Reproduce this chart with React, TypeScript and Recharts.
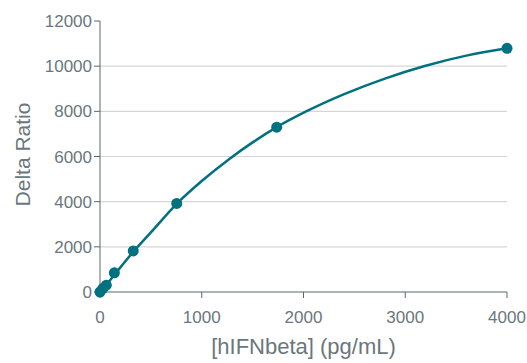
import React from 'react';
import { ComposedChart, Line, Scatter, XAxis, YAxis, CartesianGrid } from 'recharts';

// Measured standards: concentration (pg/mL) and Delta Ratio
const concentrations = [0, 27, 62, 141, 327, 754, 1737, 4000];
const deltaRatios = [0, 150, 300, 850, 1820, 3920, 7300, 10790];

// Fitted curve
const fitX = [0, 27, 62, 141, 327, 500, 754, 1000, 1278, 1500, 1737, 2031, 2400, 2800, 3200, 3600, 4000];
const fitY = [0, 140, 320, 760, 1780, 2640, 3905, 4914, 5915, 6625, 7300, 8006, 8762, 9450, 10018, 10466, 10794];

const xTicks = [0, 1000, 2000, 3000, 4000];
const yTicks = [0, 2000, 4000, 6000, 8000, 10000, 12000];
const gridValues = [2000, 4000, 6000, 8000, 10000];

const xTitle = '[hIFNbeta] (pg/mL)';
const yTitle = 'Delta Ratio';

const points = concentrations.map((x, i) => ({ x, y: deltaRatios[i] }));
const curve = fitX.map((x, i) => ({ x, y: fitY[i] }));

const TEAL = '#00717f';
const TEXT = '#6a777c';
const AXIS = '#56676d';
const FONT = '"Liberation Sans", Arial, sans-serif';

const YTitle = (props: any) => {
  const vb = props.viewBox || { x: 0, y: 0, width: 0, height: 0 };
  const cx = 22;
  const cy = vb.y + vb.height / 2 - 2;
  return (
    <text
      x={cx}
      y={cy}
      transform={`rotate(-90 ${cx} ${cy})`}
      textAnchor="middle"
      dominantBaseline="central"
      fill={TEXT}
      fontSize={21}
      fontFamily={FONT}
    >
      {yTitle}
    </text>
  );
};

const XTitle = (props: any) => {
  const vb = props.viewBox || { x: 0, y: 0, width: 0, height: 0 };
  const cx = vb.x + vb.width / 2;
  const cy = vb.y + 62;
  return (
    <text x={cx} y={cy} textAnchor="middle" fill={TEXT} fontSize={22} fontFamily={FONT}>
      {xTitle}
    </text>
  );
};

export default function App() {
  return (
    <div style={{ position: 'absolute', left: 0, top: 0, width: 527, height: 363, background: '#fff' }}>
      <ComposedChart width={527} height={363} margin={{ top: 21, right: 20, bottom: 0, left: 40 }}>
        <CartesianGrid horizontal vertical={false} horizontalValues={gridValues} stroke="#d6d6d6" strokeWidth={1.2} />
        <XAxis
          type="number"
          dataKey="x"
          domain={[0, 4000]}
          ticks={xTicks}
          height={71}
          stroke={AXIS}
          tickSize={6}
          tick={{ fill: TEXT, fontSize: 17, fontFamily: FONT, dy: 11 }}
          label={{ content: XTitle }}
        />
        <YAxis
          type="number"
          dataKey="y"
          domain={[0, 12000]}
          ticks={yTicks}
          width={60}
          stroke={AXIS}
          tickSize={6}
          tick={{ fill: TEXT, fontSize: 17, fontFamily: FONT }}
          label={{ content: YTitle }}
        />
        <Line
          data={curve}
          dataKey="y"
          type="monotone"
          stroke={TEAL}
          strokeWidth={2.5}
          dot={false}
          activeDot={false}
          isAnimationActive={false}
        />
        <Scatter
          data={points}
          dataKey="y"
          fill={TEAL}
          isAnimationActive={false}
          shape={(p: any) => <circle cx={p.cx} cy={p.cy} r={5.5} fill={TEAL} />}
        />
      </ComposedChart>
    </div>
  );
}
